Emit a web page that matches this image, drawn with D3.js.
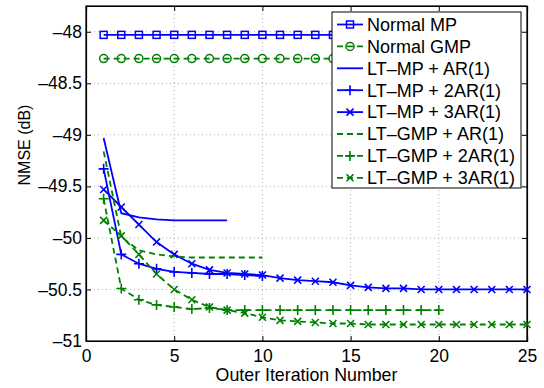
<!DOCTYPE html>
<html>
<head>
<meta charset="utf-8">
<script src="https://cdn.jsdelivr.net/npm/d3@7"></script>
<style>
  body { margin: 0; background: #fff; }
  text { font-family: "Liberation Sans", Arial, sans-serif; }
</style>
</head>
<body>
<div id="chart"></div>
<script>
// iteration numbers
const iters25 = d3.range(1, 26);
const iters20 = d3.range(1, 21);
const iters10 = d3.range(1, 11);
const iters8 = d3.range(1, 9);

// NMSE values (dB)
const normalMP = iters20.map(() => -48.03);
const normalGMP = iters20.map(() => -48.26);
const ltMpAr1 = [-49.03, -49.76, -49.80, -49.82, -49.83, -49.83, -49.83, -49.83];
const ltMp2Ar1 = [-49.33, -50.16, -50.25, -50.30, -50.33, -50.34, -50.35, -50.35, -50.36, -50.37];
const ltMp3Ar1 = [-49.53, -49.70, -49.87, -50.04, -50.16, -50.25, -50.31, -50.34, -50.35, -50.36,
                  -50.39, -50.41, -50.42, -50.43, -50.46, -50.48, -50.49, -50.49, -50.50, -50.50,
                  -50.50, -50.50, -50.50, -50.50, -50.50];
const ltGmpAr1 = [-49.16, -49.99, -50.12, -50.16, -50.18, -50.19, -50.19, -50.19, -50.19, -50.19];
const ltGmp2Ar1 = [-49.62, -50.49, -50.60, -50.65, -50.67, -50.69, -50.68, -50.70, -50.70, -50.70,
                   -50.70, -50.70, -50.70, -50.70, -50.70, -50.70, -50.70, -50.70, -50.70, -50.70];
const ltGmp3Ar1 = [-49.83, -49.98, -50.16, -50.35, -50.50, -50.60, -50.67, -50.70, -50.73, -50.77,
                   -50.80, -50.81, -50.82, -50.83, -50.83, -50.84, -50.84, -50.84, -50.84, -50.84,
                   -50.84, -50.84, -50.84, -50.84, -50.84];

const xTicks = [0, 5, 10, 15, 20, 25];
const yTicks = [-51, -50.5, -50, -49.5, -49, -48.5, -48];

const series = [
  { name: "Normal MP", x: iters20, y: normalMP, color: "#0000ff", dash: null, marker: "square" },
  { name: "Normal GMP", x: iters20, y: normalGMP, color: "#008000", dash: "6,4", marker: "circle" },
  { name: "LT\u2013MP + AR(1)", x: iters8, y: ltMpAr1, color: "#0000ff", dash: null, marker: null },
  { name: "LT\u2013MP + 2AR(1)", x: iters10, y: ltMp2Ar1, color: "#0000ff", dash: null, marker: "plus" },
  { name: "LT\u2013MP + 3AR(1)", x: iters25, y: ltMp3Ar1, color: "#0000ff", dash: null, marker: "cross" },
  { name: "LT\u2013GMP + AR(1)", x: iters10, y: ltGmpAr1, color: "#008000", dash: "6,4", marker: null },
  { name: "LT\u2013GMP + 2AR(1)", x: iters20, y: ltGmp2Ar1, color: "#008000", dash: "6,4", marker: "plus" },
  { name: "LT\u2013GMP + 3AR(1)", x: iters25, y: ltGmp3Ar1, color: "#008000", dash: "6,4", marker: "cross" }
];

const W = 544, H = 388;
const margin = { top: 6, right: 17, bottom: 47, left: 86 };
const width = W - margin.left - margin.right;
const height = H - margin.top - margin.bottom;
const tickFont = "17.5px";

const svg = d3.select("#chart").append("svg")
  .attr("width", W).attr("height", H);

const g = svg.append("g").attr("transform", `translate(${margin.left},${margin.top})`);

const x = d3.scaleLinear().domain([0, 25]).range([0, width]);
const y = d3.scaleLinear().domain([-51, -47.75]).range([height, 0]);

// dotted grid
g.append("g").selectAll("line").data(xTicks.slice(1, -1)).enter().append("line")
  .attr("x1", d => x(d)).attr("x2", d => x(d)).attr("y1", 0).attr("y2", height)
  .attr("stroke", "#b0b0b0").attr("stroke-dasharray", "1,3");
g.append("g").selectAll("line").data(yTicks.slice(1)).enter().append("line")
  .attr("x1", 0).attr("x2", width).attr("y1", d => y(d)).attr("y2", d => y(d))
  .attr("stroke", "#b0b0b0").attr("stroke-dasharray", "1,3");

const fmt = d => (d < 0 ? "\u2013" : "") + d3.format("")(Math.abs(d));

// axes, ticks inside
const xAxis = g.append("g").attr("transform", `translate(0,${height})`)
  .call(d3.axisBottom(x).tickValues(xTicks).tickSize(-5).tickPadding(9).tickFormat(d3.format("d")));
const xTop = g.append("g")
  .call(d3.axisTop(x).tickValues(xTicks).tickSize(-5).tickFormat(""));
const yAxis = g.append("g")
  .call(d3.axisLeft(y).tickValues(yTicks).tickSize(-5).tickPadding(4).tickFormat(fmt));
const yRight = g.append("g").attr("transform", `translate(${width},0)`)
  .call(d3.axisRight(y).tickValues(yTicks).tickSize(-5).tickFormat(""));

[xAxis, xTop, yAxis, yRight].forEach(a => {
  a.select(".domain").attr("stroke", "#000").attr("stroke-width", 1.2);
  a.selectAll(".tick line").attr("stroke", "#000");
  a.selectAll("text").style("font-size", tickFont).attr("fill", "#000")
    .style("font-family", "'Liberation Sans', Arial, sans-serif");
});
g.append("rect").attr("width", width).attr("height", height)
  .attr("fill", "none").attr("stroke", "#000").attr("stroke-width", 1.2);

// marker helper
function drawMarker(sel, type, color, cx, cy) {
  if (type === "square") {
    sel.append("rect").attr("x", cx - 3.5).attr("y", cy - 3.5).attr("width", 7).attr("height", 7)
      .attr("fill", "none").attr("stroke", color).attr("stroke-width", 1.5);
  } else if (type === "circle") {
    sel.append("circle").attr("cx", cx).attr("cy", cy).attr("r", 4)
      .attr("fill", "none").attr("stroke", color).attr("stroke-width", 1.5);
  } else if (type === "plus") {
    sel.append("path").attr("d", `M${cx - 5},${cy}H${cx + 5}M${cx},${cy - 5}V${cy + 5}`)
      .attr("stroke", color).attr("stroke-width", 1.6).attr("fill", "none");
  } else if (type === "cross") {
    sel.append("path").attr("d", `M${cx - 3.5},${cy - 3.5}L${cx + 3.5},${cy + 3.5}M${cx - 3.5},${cy + 3.5}L${cx + 3.5},${cy - 3.5}`)
      .attr("stroke", color).attr("stroke-width", 1.6).attr("fill", "none");
  }
}

const line = d3.line().x(d => x(d[0])).y(d => y(d[1]));

const plot = g.append("g");
series.forEach(s => {
  const pts = s.x.map((xi, i) => [xi, s.y[i]]);
  plot.append("path").datum(pts)
    .attr("d", line)
    .attr("fill", "none")
    .attr("stroke", s.color)
    .attr("stroke-width", 1.8)
    .attr("stroke-dasharray", s.dash);
  if (s.marker) {
    const mg = plot.append("g");
    pts.forEach(p => drawMarker(mg, s.marker, s.color, x(p[0]), y(p[1])));
  }
});

// legend
const lg = svg.append("g").attr("transform", "translate(332,12)");
lg.append("rect").attr("width", 189).attr("height", 176)
  .attr("fill", "#fff").attr("stroke", "#000").attr("stroke-width", 1);
series.forEach((s, i) => {
  const cy = 12.5 + i * 21.9;
  lg.append("line").attr("x1", 5).attr("x2", 31).attr("y1", cy).attr("y2", cy)
    .attr("stroke", s.color).attr("stroke-width", 1.8).attr("stroke-dasharray", s.dash);
  if (s.marker) drawMarker(lg, s.marker, s.color, 18, cy);
  lg.append("text").attr("x", 35).attr("y", cy + 6.3)
    .style("font-size", "18px")
    .attr("fill", "#000").text(s.name);
});

// axis labels
svg.append("text")
  .attr("x", margin.left + width / 2).attr("y", 380.5)
  .attr("text-anchor", "middle").style("font-size", "17.8px")
  .text("Outer Iteration Number");
svg.append("text")
  .attr("transform", "translate(30,145) rotate(-90)")
  .attr("text-anchor", "middle").style("font-size", "16px")
  .text("NMSE (dB)");
</script>
</body>
</html>
